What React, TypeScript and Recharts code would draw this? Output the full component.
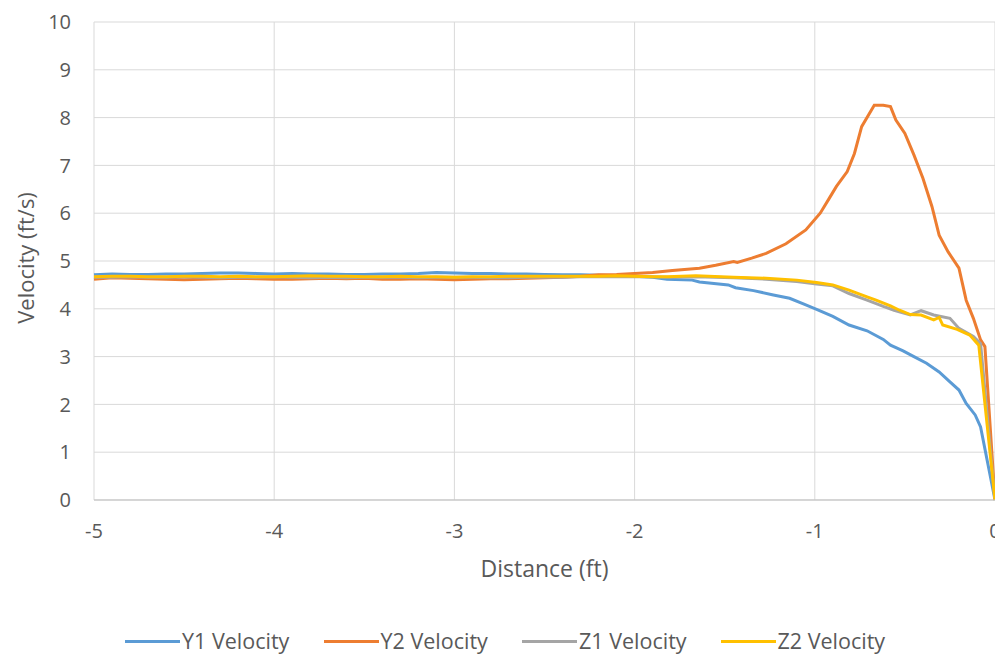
import React from "react";
import { LineChart, Line, XAxis, YAxis, CartesianGrid, Legend } from "recharts";

// Flat region shared distances (-5 .. -2, step 0.1)
const flatDistance = [
  -5, -4.9, -4.8, -4.7, -4.6, -4.5, -4.4, -4.3, -4.2, -4.1, -4, -3.9, -3.8, -3.7, -3.6, -3.5,
  -3.4, -3.3, -3.2, -3.1, -3, -2.9, -2.8, -2.7, -2.6, -2.5, -2.4, -2.3, -2.2, -2.1, -2,
];

const y1Flat = [
  4.71, 4.73, 4.72, 4.72, 4.73, 4.73, 4.74, 4.75, 4.75, 4.74, 4.73, 4.74, 4.73, 4.73, 4.72, 4.72,
  4.73, 4.73, 4.74, 4.76, 4.75, 4.74, 4.74, 4.73, 4.73, 4.72, 4.71, 4.71, 4.7, 4.69, 4.68,
];
const y2Flat = [
  4.62, 4.65, 4.64, 4.63, 4.62, 4.61, 4.62, 4.63, 4.64, 4.63, 4.62, 4.62, 4.63, 4.64, 4.63, 4.64,
  4.62, 4.62, 4.63, 4.62, 4.61, 4.62, 4.63, 4.63, 4.64, 4.65, 4.66, 4.68, 4.71, 4.72, 4.74,
];
const z1Flat = [
  4.66, 4.66, 4.67, 4.66, 4.66, 4.67, 4.66, 4.65, 4.66, 4.66, 4.67, 4.66, 4.65, 4.66, 4.65, 4.66,
  4.66, 4.66, 4.65, 4.66, 4.66, 4.66, 4.65, 4.65, 4.66, 4.66, 4.66, 4.67, 4.67, 4.67, 4.67,
];
const z2Flat = [
  4.67, 4.68, 4.68, 4.67, 4.67, 4.68, 4.68, 4.67, 4.68, 4.67, 4.67, 4.68, 4.69, 4.68, 4.68, 4.67,
  4.67, 4.68, 4.67, 4.67, 4.66, 4.67, 4.67, 4.68, 4.68, 4.68, 4.68, 4.68, 4.68, 4.69, 4.68,
];

// Near-wall region, per series
const y1NearDistance = [
  -1.9, -1.82, -1.68, -1.64, -1.48, -1.44, -1.34, -1.23, -1.14, -1.06, -0.99, -0.9, -0.81, -0.71,
  -0.62, -0.58, -0.51, -0.45, -0.38, -0.31, -0.25, -0.2, -0.16, -0.11, -0.08, 0,
];
const y1NearVelocity = [
  4.66, 4.62, 4.6, 4.56, 4.5, 4.44, 4.38, 4.29, 4.22, 4.1, 3.99, 3.84, 3.66, 3.54,
  3.36, 3.24, 3.12, 3.0, 2.86, 2.68, 2.47, 2.3, 2.02, 1.78, 1.53, 0,
];

const y2NearDistance = [
  -1.9, -1.79, -1.64, -1.55, -1.45, -1.43, -1.35, -1.27, -1.16, -1.05, -0.97, -0.92, -0.88, -0.82,
  -0.78, -0.74, -0.67, -0.62, -0.58, -0.55, -0.5, -0.45, -0.4, -0.35, -0.31, -0.26, -0.2, -0.16,
  -0.12, -0.08, -0.056, 0,
];
const y2NearVelocity = [
  4.76, 4.8, 4.85, 4.91, 4.99, 4.97, 5.06, 5.16, 5.36, 5.65, 6.0, 6.31, 6.56, 6.87,
  7.25, 7.81, 8.26, 8.26, 8.23, 7.95, 7.67, 7.22, 6.73, 6.14, 5.54, 5.19, 4.85, 4.18,
  3.8, 3.35, 3.21, 0,
];

const z1NearDistance = [
  -1.9, -1.8, -1.66, -1.45, -1.27, -1.1, -0.99, -0.9, -0.81, -0.71, -0.62, -0.56, -0.47, -0.41,
  -0.34, -0.25, -0.2, -0.12, -0.08, 0,
];
const z1NearVelocity = [
  4.67, 4.66, 4.67, 4.65, 4.62, 4.57, 4.52, 4.48, 4.32, 4.18, 4.05, 3.97, 3.87, 3.96,
  3.87, 3.8, 3.59, 3.42, 3.27, 0,
];

const z2NearDistance = [
  -1.9, -1.82, -1.66, -1.45, -1.27, -1.1, -0.99, -0.9, -0.81, -0.71, -0.66, -0.58, -0.53, -0.47,
  -0.41, -0.34, -0.31, -0.29, -0.21, -0.14, -0.09, 0,
];
const z2NearVelocity = [
  4.67, 4.67, 4.69, 4.66, 4.64, 4.6, 4.55, 4.5, 4.39, 4.25, 4.18, 4.06, 3.97, 3.88,
  3.87, 3.77, 3.82, 3.66, 3.57, 3.45, 3.24, 0,
];

const xTicks = [-5, -4, -3, -2, -1, 0];
const yTicks = [0, 1, 2, 3, 4, 5, 6, 7, 8, 9, 10];

const seriesNames = ["Y1 Velocity", "Y2 Velocity", "Z1 Velocity", "Z2 Velocity"];
const seriesColors = ["#5B9BD5", "#ED7D31", "#A5A5A5", "#FFC000"];

const build = (flat: number[], nd: number[], nv: number[]) =>
  flatDistance
    .map((d, i) => ({ d, v: flat[i] }))
    .concat(nd.map((d, i) => ({ d, v: nv[i] })));

const seriesData = [
  build(y1Flat, y1NearDistance, y1NearVelocity),
  build(y2Flat, y2NearDistance, y2NearVelocity),
  build(z1Flat, z1NearDistance, z1NearVelocity),
  build(z2Flat, z2NearDistance, z2NearVelocity),
];

const FONT = "'Open Sans', Lato, sans-serif";
const TEXT = "#595959";

const LegendContent = () => (
  <div style={{ display: "flex", fontFamily: FONT, fontSize: 21.5, color: TEXT, lineHeight: "26px" }}>
    {seriesNames.map((n, i) => (
      <div key={n} style={{ display: "flex", alignItems: "center", width: 198.5 }}>
        <div style={{ width: 55, height: 3, background: seriesColors[i], marginRight: 2, flexShrink: 0 }} />
        <span style={{ whiteSpace: "nowrap" }}>{n}</span>
      </div>
    ))}
  </div>
);

const YLabel = (props: any) => {
  const vb = props.viewBox || {};
  const cx = 17;
  const cy = vb.y + vb.height / 2 - 3;
  return (
    <text
      x={cx}
      y={cy}
      transform={`rotate(-90, ${cx}, ${cy})`}
      textAnchor="middle"
      dominantBaseline="central"
      fill={TEXT}
      fontSize={22}
      fontFamily={FONT}
    >
      Velocity (ft/s)
    </text>
  );
};

export default function App() {
  return (
    <LineChart
      width={995}
      height={646}
      margin={{ top: 14, right: 8, left: 0, bottom: 74 }}
      style={{ fontFamily: FONT }}
    >
      <CartesianGrid stroke="#D9D9D9" strokeWidth={1} />
      <XAxis
        type="number"
        dataKey="d"
        domain={[-5, 0]}
        ticks={xTicks}
        allowDuplicatedCategory={false}
        height={80}
        tickSize={0}
        tickMargin={24}
        axisLine={{ stroke: "#BFBFBF", strokeWidth: 1 }}
        tickLine={false}
        tick={{ fill: TEXT, fontSize: 20, fontFamily: FONT }}
        label={{
          value: "Distance (ft)",
          position: "insideTop",
          offset: 61,
          fill: TEXT,
          fontSize: 23,
          fontFamily: FONT,
        }}
      />
      <YAxis
        type="number"
        domain={[0, 10]}
        ticks={yTicks}
        width={86}
        tickSize={0}
        tickMargin={23}
        axisLine={false}
        tickLine={false}
        tick={{ fill: TEXT, fontSize: 20, fontFamily: FONT }}
        label={<YLabel />}
      />
      <Legend
        verticalAlign="middle"
        layout="horizontal"
        content={<LegendContent />}
        wrapperStyle={{ top: 620, left: 117, width: 860 }}
      />
      {seriesData.map((data, i) => (
        <Line
          key={seriesNames[i]}
          data={data}
          dataKey="v"
          name={seriesNames[i]}
          type="linear"
          stroke={seriesColors[i]}
          strokeWidth={3}
          dot={false}
          activeDot={false}
          isAnimationActive={false}
        />
      ))}
    </LineChart>
  );
}
